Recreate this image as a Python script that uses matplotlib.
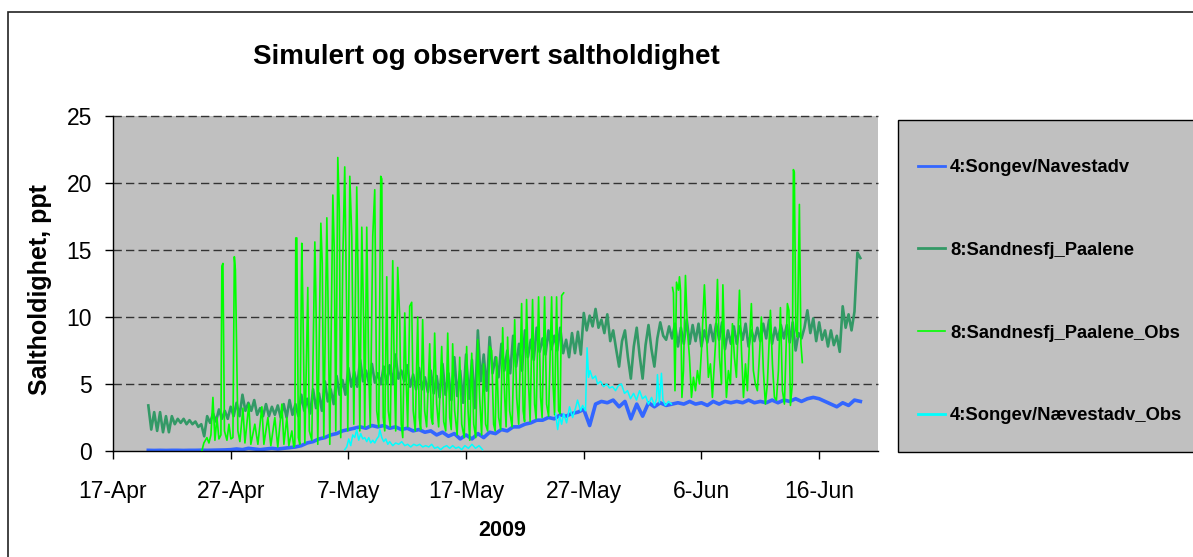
import numpy as np
import matplotlib
matplotlib.use("Agg")
import matplotlib.pyplot as plt
from matplotlib.lines import Line2D
from matplotlib.patches import Rectangle

plt.rcParams['font.family'] = ['Liberation Sans', 'DejaVu Sans']

# ---------------- data (days after 17-Apr-2009, salinity in ppt) ----------------
TICK_DAYS = [0, 10, 20, 30, 40, 50, 60]
TICK_LABELS = ["17-Apr", "27-Apr", "7-May", "17-May", "27-May", "6-Jun", "16-Jun"]
Y_TICKS = [0, 5, 10, 15, 20, 25]
SERIES_NAMES = ["4:Songev/Navestadv", "8:Sandnesfj_Paalene",
                "8:Sandnesfj_Paalene_Obs", "4:Songev/Nævestadv_Obs"]
SERIES_COLORS = ["#3366FF", "#339966", "#00FF00", "#00FFFF"]

# simulated 4:Songev/Navestadv, half-day samples from day 3.0
BLUE_START, BLUE_STEP = 3.0, 0.5
BLUE_V = [0.05, 0.04, 0.05, 0.04, 0.05, 0.05, 0.04, 0.05, 0.05, 0.06, 0.05, 0.06, 0.07, 0.08,
          0.1, 0.15, 0.1, 0.2, 0.15, 0.1, 0.15, 0.2, 0.15, 0.2, 0.25,
          0.3, 0.4, 0.6, 0.7, 0.9, 1.0, 1.2, 1.3, 1.5, 1.6,
          1.7, 1.8, 1.7, 1.9, 1.8, 1.9, 1.7, 1.8, 1.6, 1.7,
          1.5, 1.6, 1.4, 1.5, 1.2, 1.4, 1.1, 1.3, 0.9, 1.2,
          0.9, 1.3, 1.0, 1.4, 1.3, 1.6, 1.5, 1.8, 1.8, 2.0,
          2.1, 2.3, 2.3, 2.5, 2.4, 2.7, 2.6, 2.8, 2.9, 3.1,
          1.9, 3.5, 3.7, 3.6, 3.8, 3.3, 3.7, 2.4, 3.5, 2.6,
          3.6, 3.3, 3.6, 3.4, 3.5, 3.6, 3.5, 3.7, 3.5, 3.6,
          3.4, 3.7, 3.5, 3.7, 3.6, 3.7, 3.6, 3.8, 3.6, 3.7,
          3.6, 3.8, 3.6, 3.8, 3.7, 3.9, 3.7, 3.9, 4.0, 3.9,
          3.7, 3.5, 3.3, 3.6, 3.4, 3.8, 3.7]

# simulated 8:Sandnesfj_Paalene, quarter-day samples from day 3.0 (one row per day)
DG_START, DG_STEP = 3.0, 0.25
DG_V = [3.4, 1.6, 2.9, 1.5,  2.9, 1.4, 2.6, 1.4,  2.6, 2.0, 2.4, 2.1,  2.4, 2.0, 2.3, 2.0,
        2.2, 1.8, 2.0, 1.1,  2.6, 2.1, 2.8, 2.2,  3.1, 2.4, 3.0, 2.4,  3.3, 2.6, 3.6, 2.6,
        4.2, 3.0, 3.6, 3.0,  3.8, 2.7, 3.2, 2.6,  3.5, 2.6, 3.3, 2.7,  3.4, 2.5, 3.5, 2.5,
        3.8, 2.7, 3.5, 2.6,  4.2, 3.0, 3.9, 2.8,  4.6, 3.2, 4.3, 3.0,  5.2, 3.7, 4.6, 3.5,
        5.6, 4.2, 5.3, 4.2,  6.2, 4.8, 5.9, 4.8,  6.8, 5.2, 6.0, 5.0,  6.5, 5.1, 5.8, 5.0,
        6.3, 5.0, 6.4, 5.0,  7.2, 5.4, 6.0, 5.2,  6.4, 4.8, 5.7, 4.6,  6.2, 4.6, 5.5, 4.4,
        6.0, 4.3, 5.6, 4.0,  6.5, 4.2, 5.8, 3.8,  7.0, 4.1, 6.0, 3.6,  7.2, 3.9, 6.8, 3.2,
        9.0, 5.2, 7.2, 4.5,  8.5, 5.8, 7.0, 5.5,  8.0, 6.0, 7.5, 5.8,  8.6, 6.3, 8.0, 6.0,
        9.0, 7.0, 8.3, 6.8,  9.2, 7.4, 8.4, 7.2,  9.0, 7.6, 8.6, 7.5,  9.2, 7.3, 8.3, 7.0,
        8.8, 7.3, 8.9, 7.2,  10.3, 9.0, 10.1, 9.3,  10.6, 9.2, 9.8, 8.8,  10.2, 8.2, 9.0, 7.6,
        6.3, 8.2, 9.0, 7.0,  5.4, 7.8, 9.2, 7.1,  5.4, 7.9, 9.4, 7.6,  6.3, 8.4, 9.6, 8.6,
        8.3, 9.3, 8.4, 9.5,  7.8, 9.2, 8.0, 9.8,  8.0, 9.4, 8.2, 9.5,  7.8, 9.0, 8.1, 9.4,
        8.2, 9.5, 8.3, 9.6,  7.6, 9.0, 8.0, 9.3,  8.0, 9.3, 8.3, 9.5,  7.8, 9.0, 8.2, 9.2,
        8.2, 9.5, 8.4, 9.8,  8.0, 9.2, 8.3, 9.4,  8.4, 9.4, 8.1, 9.6,  7.5, 8.8, 8.4, 9.2,
        10.5, 8.8, 9.9, 8.2,  9.6, 8.3, 9.0, 7.8,  9.0, 7.9, 8.6, 7.4,  10.8, 9.2, 10.2, 9.0,
        10.4]
DG_TAIL_T = [63.25, 63.5]
DG_TAIL_V = [14.8, 14.4]

# observed 8:Sandnesfj_Paalene_Obs (day, ppt)
OBS_SEG1 = [(7.55, 0.0), (7.72, 0.6), (7.98, 1.0), (8.15, 0.6), (8.32, 1.2), (8.49, 4.0), (8.66, 0.8),
            (8.83, 2.5), (9.00, 0.9), (9.17, 1.2), (9.25, 13.8), (9.34, 14.0), (9.47, 1.5), (9.68, 0.8),
            (9.85, 2.0), (10.02, 0.9), (10.19, 1.0), (10.31, 14.5), (10.40, 13.5), (10.48, 8.8),
            (10.61, 1.5), (10.78, 0.7), (11.04, 3.2), (11.21, 0.6), (11.54, 3.5), (11.71, 0.5),
            (12.05, 2.0), (12.31, 0.5), (12.65, 3.3), (12.82, 0.5), (13.16, 2.5), (13.41, 0.4),
            (13.75, 2.5), (14.00, 0.3), (14.35, 3.5), (14.52, 0.5), (14.77, 2.5), (14.94, 0.4),
            (15.20, 1.5), (15.36, 0.3)]
OBS_SEG2 = [(15.45, 0.5), (15.53, 15.9), (15.62, 15.9), (15.75, 1.0), (15.87, 0.5), (16.04, 15.5),
            (16.13, 11.0), (16.30, 0.6), (16.55, 12.2), (16.68, 1.5), (16.89, 0.8), (17.15, 15.6),
            (17.23, 12.0), (17.40, 0.5), (17.66, 17.0), (17.78, 14.0), (17.91, 1.0), (18.17, 17.4),
            (18.29, 10.0), (18.42, 0.5), (18.68, 19.1), (18.80, 15.0), (18.93, 1.5), (19.10, 21.9),
            (19.23, 18.0), (19.35, 1.0), (19.52, 14.0), (19.69, 21.2), (19.86, 10.0), (19.95, 1.5),
            (20.12, 20.5), (20.29, 16.0), (20.46, 2.0), (20.71, 19.7), (20.84, 12.0), (20.97, 1.5),
            (21.14, 16.7), (21.31, 9.0), (21.39, 1.8), (21.56, 16.7), (21.73, 6.0), (21.86, 1.8),
            (22.07, 16.0), (22.24, 19.5), (22.41, 3.0), (22.58, 1.8), (22.75, 20.5), (22.84, 20.3),
            (22.96, 2.5), (23.09, 1.5), (23.26, 13.0), (23.39, 3.0), (23.56, 1.8), (23.77, 14.2),
            (23.90, 6.0), (24.02, 1.5), (24.19, 13.7), (24.36, 10.0), (24.49, 2.0), (24.62, 1.0),
            (24.79, 10.3), (24.92, 5.0), (25.04, 1.8), (25.21, 10.8), (25.38, 11.1), (25.51, 3.0),
            (25.68, 1.5), (25.89, 10.0), (26.02, 2.5), (26.14, 1.6), (26.31, 9.8), (26.48, 3.0),
            (26.65, 1.8), (26.91, 8.0), (27.04, 2.5), (27.16, 2.0), (27.33, 8.8), (27.50, 3.5),
            (27.67, 1.8), (27.93, 7.8), (28.10, 2.2), (28.27, 1.5), (28.44, 8.8), (28.61, 2.5),
            (28.74, 1.6), (28.86, 8.0), (29.03, 3.0), (29.24, 1.2), (29.46, 7.0), (29.63, 2.0),
            (29.84, 1.0), (30.05, 7.8), (30.17, 3.0), (30.31, 0.8), (30.48, 7.3), (30.65, 2.0),
            (30.82, 1.0), (30.99, 8.3), (31.15, 4.0), (31.32, 1.2), (31.49, 6.5), (31.66, 2.0),
            (31.83, 1.5), (32.00, 7.8), (32.17, 7.5), (32.34, 2.0), (32.47, 1.5), (32.60, 7.0),
            (32.77, 2.5), (32.94, 1.6), (33.11, 9.2), (33.28, 4.0), (33.40, 1.8), (33.53, 8.5),
            (33.70, 3.0), (33.91, 1.8), (34.13, 9.8), (34.30, 4.0), (34.47, 2.0), (34.72, 11.0),
            (34.85, 3.0), (34.97, 2.2), (35.14, 11.3), (35.31, 5.0), (35.44, 2.2), (35.65, 11.3),
            (35.82, 3.5), (35.95, 2.4), (36.16, 11.5), (36.33, 4.0), (36.46, 2.5), (36.67, 11.5),
            (36.84, 3.5), (37.01, 2.6), (37.27, 11.5), (37.39, 5.0), (37.52, 2.7), (37.69, 11.5),
            (37.86, 3.0), (37.99, 2.8), (38.12, 11.6), (38.29, 11.8)]
OBS_SEG3 = [(47.54, 12.2), (47.62, 11.8), (47.75, 4.5), (47.88, 12.6), (48.05, 12.0), (48.13, 13.0),
            (48.22, 12.0), (48.34, 4.0), (48.47, 6.0), (48.64, 13.1), (48.81, 9.0), (48.98, 7.0),
            (49.15, 4.0), (49.32, 5.5), (49.49, 4.5), (49.66, 6.0), (49.83, 5.0), (50.00, 7.5),
            (50.25, 12.4), (50.42, 9.0), (50.59, 5.5), (50.76, 6.5), (50.93, 4.0), (51.19, 8.0),
            (51.36, 12.8), (51.53, 7.0), (51.70, 5.0), (51.82, 12.4), (51.95, 8.0), (52.12, 4.0),
            (52.29, 6.0), (52.46, 5.0), (52.63, 9.5), (52.80, 7.0), (52.97, 5.5), (53.23, 12.0),
            (53.40, 7.5), (53.57, 4.0), (53.74, 6.5), (53.90, 4.5), (54.07, 8.0), (54.24, 11.0),
            (54.41, 6.0), (54.58, 5.0), (54.75, 4.5), (54.92, 7.0), (55.09, 10.0), (55.26, 6.0),
            (55.43, 3.5), (55.60, 5.0), (55.86, 10.5), (56.03, 6.5), (56.20, 4.0), (56.37, 3.8),
            (56.54, 6.0), (56.71, 10.7), (56.88, 4.5), (57.05, 3.5), (57.30, 11.0), (57.43, 10.5),
            (57.56, 3.4), (57.72, 5.0), (57.81, 21.0), (57.89, 20.8), (58.02, 9.0), (58.15, 8.5),
            (58.32, 18.4), (58.45, 8.0), (58.57, 6.6)]

# observed 4:Songev/Nævestadv_Obs (day, ppt)
CYAN_SEG1 = [(19.69, 0.1), (19.86, 0.3), (20.03, 0.9), (20.20, 0.4), (20.37, 1.2), (20.54, 1.0),
             (20.71, 1.6), (20.88, 0.8), (21.05, 1.3), (21.22, 0.9), (21.39, 1.0), (21.56, 0.7),
             (21.73, 1.0), (21.90, 0.6), (22.07, 0.8), (22.24, 0.6), (22.41, 0.9), (22.58, 1.1),
             (22.67, 1.6), (22.84, 1.0), (23.00, 0.7), (23.18, 0.9), (23.35, 0.5), (23.51, 0.7),
             (23.77, 0.4), (24.02, 0.6), (24.28, 0.5), (24.53, 0.7), (24.79, 0.4), (25.04, 0.5),
             (25.30, 0.3), (25.55, 0.5), (25.81, 0.4), (26.06, 0.5), (26.32, 0.3), (26.57, 0.4),
             (26.83, 0.3), (27.08, 0.5), (27.33, 0.2), (27.59, 0.3), (27.84, 0.1), (28.10, 0.3),
             (28.35, 0.4), (28.61, 0.2), (28.86, 0.4), (29.12, 0.2), (29.37, 0.3), (29.63, 0.1),
             (29.90, 0.4), (30.20, 0.2), (30.50, 0.5), (30.80, 0.2), (31.10, 0.4), (31.40, 0.1)]
CYAN_SEG2 = [(37.61, 2.8), (37.78, 1.6), (37.95, 2.6), (38.12, 2.0), (38.29, 2.8), (38.54, 2.1),
             (38.79, 3.3), (39.05, 2.5), (39.30, 3.2), (39.47, 3.8), (39.73, 3.0), (39.90, 3.4),
             (40.15, 3.0), (40.28, 7.7), (40.41, 5.5), (40.53, 6.0), (40.75, 5.4), (41.00, 5.6),
             (41.17, 5.0), (41.43, 5.2), (41.68, 4.8), (41.94, 5.0), (42.19, 4.7), (42.44, 4.8),
             (42.70, 4.5), (42.95, 4.9), (43.20, 5.0), (43.46, 4.3), (43.72, 4.5), (43.97, 3.9),
             (44.23, 4.3), (44.48, 3.8), (44.74, 4.5), (44.99, 3.9), (45.25, 4.1), (45.50, 3.5),
             (45.76, 4.0), (46.01, 3.4), (46.18, 3.9), (46.26, 5.7), (46.43, 3.6), (46.60, 5.8),
             (46.73, 3.8), (46.94, 3.4), (47.20, 3.7), (47.45, 3.5)]


def join_segments(*segments):
    t, v = [], []
    for seg in segments:
        t += [p[0] for p in seg] + [np.nan]
        v += [p[1] for p in seg] + [np.nan]
    return np.array(t), np.array(v)


blue_t = BLUE_START + BLUE_STEP * np.arange(len(BLUE_V))
dg_t = np.concatenate([DG_START + DG_STEP * np.arange(len(DG_V)), DG_TAIL_T])
dg_v = np.concatenate([DG_V, DG_TAIL_V])
obs_t, obs_v = join_segments(OBS_SEG1 + OBS_SEG2, OBS_SEG3)
cyan_t, cyan_v = join_segments(CYAN_SEG1, CYAN_SEG2)

# ---------------- figure ----------------
W, H = 1193, 557
fig = plt.figure(figsize=(W / 100, H / 100), dpi=100)
fig.patch.set_facecolor("white")

# outer chart frame
fig.add_artist(Rectangle((8 / W, -0.05), 1.2, (H - 12) / H + 0.05, transform=fig.transFigure,
                         fill=False, edgecolor="#222222", lw=1.2))

ax = fig.add_axes([113 / W, (H - 451) / H, 765 / W, 335 / H])
ax.set_facecolor("#C0C0C0")
ax.set_xlim(0, 65)
ax.set_ylim(0, 25)

for y in Y_TICKS[1:]:
    ax.axhline(y, color="#333333", lw=1.0, dashes=(6, 3), zorder=1, clip_on=False)

ax.plot(blue_t, BLUE_V, color=SERIES_COLORS[0], lw=2.6, zorder=2, solid_joinstyle="round")
ax.plot(dg_t, dg_v, color=SERIES_COLORS[1], lw=1.9, zorder=3, solid_joinstyle="round")
ax.plot(obs_t, obs_v, color=SERIES_COLORS[2], lw=1.2, zorder=4)
ax.plot(cyan_t, cyan_v, color=SERIES_COLORS[3], lw=1.1, zorder=5)

ax.set_xticks(TICK_DAYS, TICK_LABELS)
ax.set_yticks(Y_TICKS)
ax.tick_params(axis="both", direction="out", length=6, width=1, labelsize=16.5, color="black")
ax.tick_params(axis="x", pad=15)
ax.tick_params(axis="y", pad=9)
for s in ["top", "right"]:
    ax.spines[s].set_visible(False)
for s in ["left", "bottom"]:
    ax.spines[s].set_color("black")
    ax.spines[s].set_linewidth(1.0)

fig.text(486 / W, 1 - 57 / H, "Simulert og observert saltholdighet", ha="center", va="center",
         fontsize=20, fontweight="bold")
fig.text(40 / W, 1 - 290 / H, "Saltholdighet, ppt", ha="center", va="center", rotation=90,
         fontsize=18, fontweight="bold")
fig.text(502 / W, 1 - 531 / H, "2009", ha="center", va="center", fontsize=15.5, fontweight="bold")

# legend box
fig.add_artist(Rectangle((898 / W, (H - 452) / H), 0.4, 332 / H, transform=fig.transFigure,
                         facecolor="#C0C0C0", edgecolor="black", lw=1.0))
handles = [Line2D([], [], color=c, lw=w) for c, w in zip(SERIES_COLORS, [2.0, 2.0, 1.2, 2.0])]
fig.legend(handles, SERIES_NAMES, loc="upper left", bbox_to_anchor=(918 / W, 1 - 159 / H),
           bbox_transform=fig.transFigure, frameon=False, prop={"weight": "bold", "size": 13.2},
           handlelength=1.47, handletextpad=0.27, labelspacing=3.59, borderpad=0, borderaxespad=0)

fig.savefig("out.png", dpi=100)
